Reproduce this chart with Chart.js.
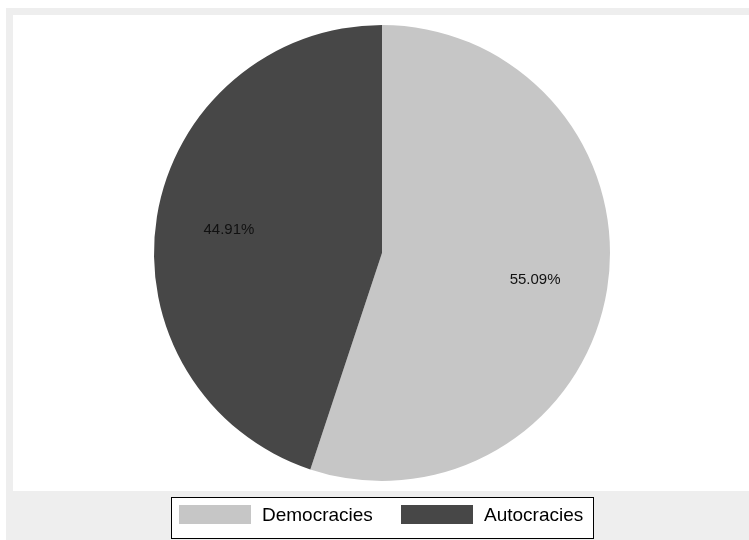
<!DOCTYPE html>
<html>
<head>
<meta charset="utf-8">
<title>Democracies vs Autocracies</title>
<script src="https://cdn.jsdelivr.net/npm/chart.js@4/dist/chart.umd.min.js"></script>
<style>
    html, body { margin: 0; padding: 0; background: #ffffff; }
    #wrap { width: 749px; height: 540px; }
</style>
</head>
<body>
<div id="wrap"><canvas id="pie" width="749" height="540"></canvas></div>
<script>
'use strict';

// Dados do gráfico
var categories = ['Democracies', 'Autocracies'];
var shares = [55.09, 44.91];
var sliceColors = ['#c6c6c6', '#474747'];

var FONT = '"Liberation Sans", Arial, sans-serif';

// Fundo: moldura cinzenta e área branca do gráfico
var backgroundPlugin = {
    id: 'stataBackground',
    beforeDraw: function(chart) {
        var ctx = chart.ctx;
        ctx.save();
        ctx.fillStyle = '#ffffff';
        ctx.fillRect(0, 0, chart.width, chart.height);
        ctx.fillStyle = '#eeeeee';
        ctx.fillRect(6, 8, chart.width - 6, chart.height - 8);
        ctx.fillStyle = '#ffffff';
        ctx.fillRect(13, 15, chart.width - 13, 476);
        ctx.restore();
    }
};

// Rótulos de percentagem dentro de cada fatia
var sliceLabelPlugin = {
    id: 'sliceLabels',
    afterDatasetsDraw: function(chart) {
        var ctx = chart.ctx;
        var data = chart.data.datasets[0].data;
        var total = data.reduce(function(a, b) { return a + b; }, 0);
        var meta = chart.getDatasetMeta(0);
        ctx.save();
        ctx.font = '15px ' + FONT;
        ctx.fillStyle = '#111111';
        ctx.textAlign = 'center';
        ctx.textBaseline = 'middle';
        meta.data.forEach(function(arc, i) {
            var p = arc.getProps(['x', 'y', 'startAngle', 'endAngle', 'outerRadius'], true);
            var mid = (p.startAngle + p.endAngle) / 2;
            var r = p.outerRadius * 0.68;
            var txt = (data[i] / total * 100).toFixed(2) + '%';
            ctx.fillText(txt, p.x + Math.cos(mid) * r, p.y + Math.sin(mid) * r + 2);
        });
        ctx.restore();
    }
};

// Legenda em caixa, por baixo do gráfico
var legendBoxPlugin = {
    id: 'legendBox',
    afterDraw: function(chart) {
        var ctx = chart.ctx;
        var labels = chart.data.labels;
        var colors = chart.data.datasets[0].backgroundColor;
        ctx.save();
        ctx.fillStyle = '#ffffff';
        ctx.fillRect(171, 497, 422, 41);
        ctx.strokeStyle = '#000000';
        ctx.lineWidth = 1;
        ctx.strokeRect(171.5, 497.5, 422, 41);

        var starts = [179, 401];
        ctx.font = '19px ' + FONT;
        ctx.textBaseline = 'middle';
        labels.forEach(function(label, i) {
            ctx.fillStyle = colors[i];
            ctx.fillRect(starts[i], 505, 72, 19);
            ctx.fillStyle = '#000000';
            ctx.fillText(label, starts[i] + 83, 516);
        });
        ctx.restore();
    }
};

new Chart(document.getElementById('pie'), {
    type: 'pie',
    data: {
        labels: categories,
        datasets: [{
            data: shares,
            backgroundColor: sliceColors,
            borderWidth: 0
        }]
    },
    options: {
        responsive: false,
        animation: false,
        layout: { padding: { top: 25, bottom: 59, left: 20, right: 5 } },
        plugins: {
            legend: { display: false },
            tooltip: { enabled: false }
        }
    },
    plugins: [backgroundPlugin, sliceLabelPlugin, legendBoxPlugin]
});
</script>
</body>
</html>
